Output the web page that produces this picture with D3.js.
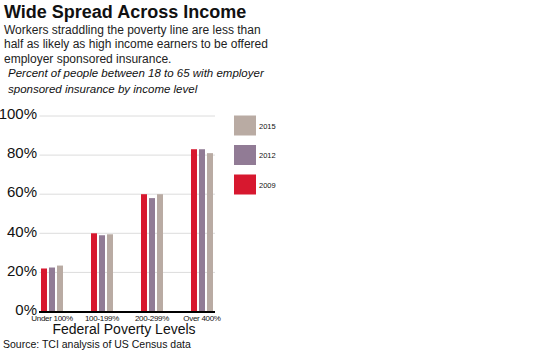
<!DOCTYPE html>
<html>
<head>
<meta charset="utf-8">
<script src="https://cdn.jsdelivr.net/npm/d3@7"></script>
<style>
    body { margin: 0; background: #fff; }
    svg { display: block; font-family: "Liberation Sans", Arial, sans-serif; }
</style>
</head>
<body>
<svg id="chart"></svg>
<script>
// data
const levels = ['Under 100%', '100-199%', '200-299%', 'Over 400%'];
const years = ['2009', '2012', '2015'];
const val2009 = [22, 40, 60, 83];
const val2012 = [22.5, 39, 58, 83];
const val2015 = [23.5, 39.5, 60, 81];
const yTicks = [0, 20, 40, 60, 80, 100];
const legendOrder = ['2015', '2012', '2009'];

const seriesVals = { '2009': val2009, '2012': val2012, '2015': val2015 };
const data = levels.map((l, i) => ({
    level: l,
    values: years.map(y => ({ year: y, value: seriesVals[y][i] }))
}));

const width = 540, height = 351;
const svg = d3.select('#chart')
    .attr('width', width)
    .attr('height', height);

const color = d3.scaleOrdinal()
    .domain(years)
    .range(['#d7182f', '#917b95', '#b9aba3']);

// header text
svg.append('text')
    .attr('x', 4).attr('y', 18)
    .style('font-size', '18px')
    .style('font-weight', 'bold')
    .attr('fill', '#111')
    .text('Wide Spread Across Income');

const sub = ['Workers straddling the poverty line are less than',
    'half as likely as high income earners to be offered',
    'employer sponsored insurance.'];
svg.append('g').selectAll('text')
    .data(sub)
    .join('text')
    .attr('x', 4)
    .attr('y', (d, i) => 34 + i * 14.3)
    .style('font-size', '12px')
    .attr('fill', '#222')
    .text(d => d);

const ital = ['Percent of people between 18 to 65 with employer',
    'sponsored insurance by income level'];
svg.append('g').selectAll('text')
    .data(ital)
    .join('text')
    .attr('x', 8)
    .attr('y', (d, i) => 77 + i * 16)
    .style('font-size', '11.5px')
    .style('font-style', 'italic')
    .attr('fill', '#111')
    .text(d => d);

// scales
const x0 = d3.scaleBand()
    .domain(levels)
    .range([27, 227]);

const x1 = d3.scaleBand()
    .domain(years)
    .range([0, 22])
    .paddingInner(0.25);

const y = d3.scaleLinear()
    .domain([0, 100])
    .range([311.5, 116]);

// grid
svg.append('g')
    .selectAll('line')
    .data(yTicks.filter(t => t > 0))
    .join('line')
    .attr('x1', 39.5).attr('x2', 215)
    .attr('y1', d => y(d)).attr('y2', d => y(d))
    .attr('stroke', '#dcdcdc')
    .attr('stroke-width', 1);

// y labels
const yAxis = d3.axisLeft(y)
    .tickValues(yTicks)
    .tickFormat(d => d + '%')
    .tickSize(0)
    .tickPadding(0);

svg.append('g')
    .attr('transform', 'translate(37,0)')
    .call(yAxis)
    .call(g => g.select('.domain').remove())
    .call(g => g.selectAll('text')
        .attr('dy', '0.18em')
        .style('font-size', '15px')
        .style('font-family', '"Liberation Sans", Arial, sans-serif')
        .attr('fill', '#111'));

// bars
const groups = svg.append('g')
    .selectAll('g')
    .data(data)
    .join('g')
    .attr('transform', d => `translate(${x0(d.level) + x0.bandwidth() / 2 - 11},0)`);

groups.selectAll('rect')
    .data(d => d.values)
    .join('rect')
    .attr('x', d => x1(d.year))
    .attr('y', d => y(d.value))
    .attr('width', x1.bandwidth())
    .attr('height', d => y(0) - y(d.value))
    .attr('fill', d => color(d.year));

// baseline
svg.append('line')
    .attr('x1', 39).attr('x2', 215)
    .attr('y1', y(0) + 0.5).attr('y2', y(0) + 0.5)
    .attr('stroke', '#000')
    .attr('stroke-width', 2);

// x labels
const xAxis = d3.axisBottom(x0).tickSize(0).tickPadding(0);
svg.append('g')
    .attr('transform', `translate(0,${y(0)})`)
    .call(xAxis)
    .call(g => g.select('.domain').remove())
    .call(g => g.selectAll('text')
        .attr('y', 9)
        .attr('dy', 0)
        .style('font-size', '8px')
        .style('letter-spacing', '-0.3px')
        .style('font-family', '"Liberation Sans", Arial, sans-serif')
        .attr('fill', '#111'));

svg.append('text')
    .attr('x', 124).attr('y', 334)
    .attr('text-anchor', 'middle')
    .style('font-size', '14px')
    .attr('fill', '#111')
    .text('Federal Poverty Levels');

svg.append('text')
    .attr('x', 3).attr('y', 348)
    .style('font-size', '10.5px')
    .attr('fill', '#111')
    .text('Source: TCI analysis of US Census data');

// legend
const legend = svg.append('g')
    .selectAll('g')
    .data(legendOrder)
    .join('g')
    .attr('transform', (d, i) => `translate(234,${115.5 + i * 29.5})`);

legend.append('rect')
    .attr('width', 22)
    .attr('height', 20)
    .attr('fill', d => color(d));

legend.append('text')
    .attr('x', 25)
    .attr('y', 13)
    .style('font-size', '7.5px')
    .attr('fill', '#111')
    .text(d => d);
</script>
</body>
</html>
